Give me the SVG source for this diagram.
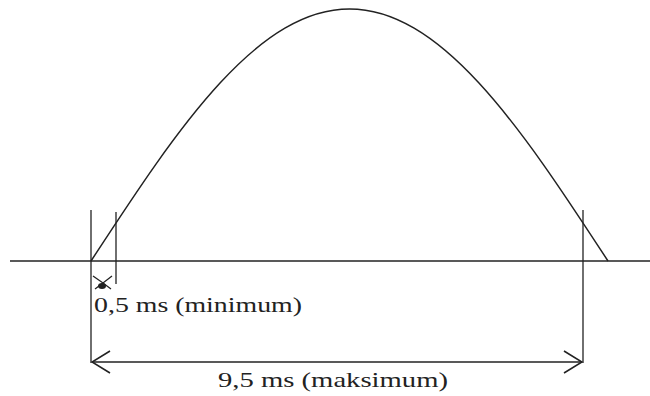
<svg xmlns="http://www.w3.org/2000/svg" width="650" height="396" viewBox="0 0 650 396">
<defs>
<style>
.ln{stroke:#222;stroke-width:1.5;fill:none}
.thin{stroke:#222;stroke-width:1.3;fill:none}
.lbl{font-family:"Liberation Serif","Times New Roman",serif;font-size:21px;fill:#222}
</style>
<marker id="oa" viewBox="0 0 20 24" refX="19" refY="12" markerWidth="20" markerHeight="24" markerUnits="userSpaceOnUse" orient="auto-start-reverse">
<path d="M1,1 L19,12 L1,23" fill="none" stroke="#222" stroke-width="1.6"/>
</marker>
</defs>
<rect width="650" height="396" fill="#fff"/>
<g id="axis">
<line class="ln" x1="10" y1="261" x2="650" y2="261"/>
</g>
<g id="waveform">
<path class="ln" d="M91,261 C112.54,228.01 134.09,195.04 155.63,164.56 C177.17,134.08 198.71,106.14 220.25,82.81 C241.79,59.48 263.34,40.8 284.88,28.18 C306.42,15.56 327.96,9 349.5,9 C371.04,9 392.59,15.56 414.13,28.18 C435.67,40.8 457.21,59.48 478.75,82.81 C500.29,106.14 521.84,134.08 543.38,164.56 C564.92,195.04 586.46,228.01 608,261"/>
</g>
<g id="connectors">
<line class="thin" x1="91" y1="210" x2="91" y2="363"/>
<line class="thin" x1="116" y1="212" x2="116" y2="284"/>
<line class="thin" x1="583" y1="210" x2="583" y2="363"/>
<line class="thin" x1="92" y1="362" x2="582" y2="362" marker-start="url(#oa)" marker-end="url(#oa)"/>
<path class="thin" d="M93,276 L103,283 L112,276 M95,289 L103,283 L111,289"/>
<ellipse cx="102" cy="286" rx="4" ry="3" fill="#222"/>
</g>
<g id="label-min">
<text class="lbl" x="94" y="312" textLength="208" lengthAdjust="spacingAndGlyphs">0,5 ms (minimum)</text>
</g>
<g id="label-max">
<text class="lbl" x="218" y="387" textLength="230" lengthAdjust="spacingAndGlyphs">9,5 ms (maksimum)</text>
</g>
</svg>
